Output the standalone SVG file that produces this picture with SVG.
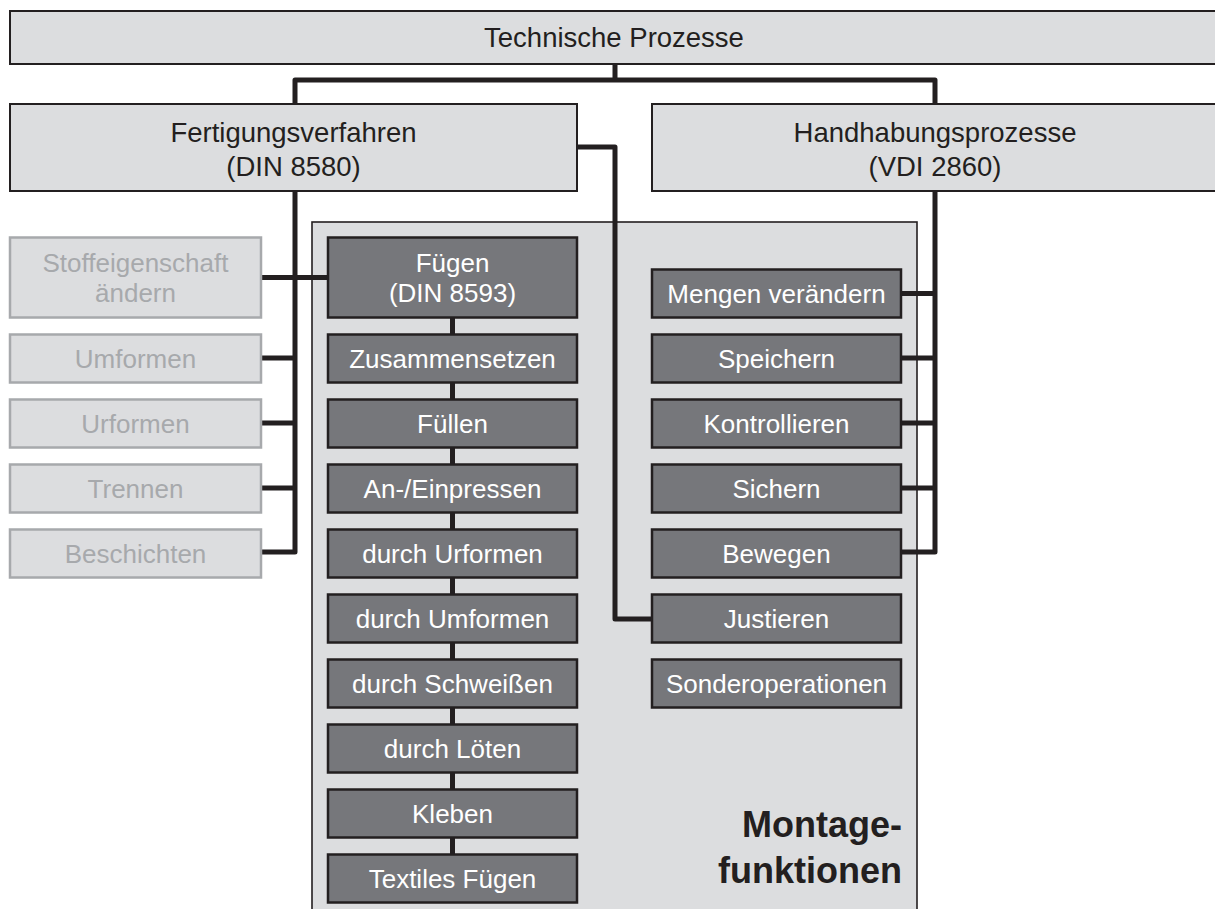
<svg xmlns="http://www.w3.org/2000/svg" width="1215" height="909" viewBox="0 0 1215 909">
  <style>
    text { font-family: "Liberation Sans", Arial, Helvetica, sans-serif; text-anchor: middle; }
    .head { fill: #dcdddf; stroke: #231f20; stroke-width: 2; }
    .head-t { fill: #231f20; font-size: 27.5px; }
    .pale { fill: #dcdddf; stroke: #a7a9ac; stroke-width: 2.5; }
    .pale-t { fill: #a7a9ac; font-size: 26px; }
    .dark { fill: #76777b; stroke: #231f20; stroke-width: 2.5; }
    .dark-t { fill: #ffffff; font-size: 26px; }
    .panel { fill: #dcdddf; stroke: #231f20; stroke-width: 1.6; }
    .title { fill: #231f20; font-size: 36px; font-weight: bold; text-anchor: end; }
    .wire { fill: none; stroke: #231f20; stroke-width: 5; stroke-linejoin: round; }
  </style>

  <!-- background panel for the assembly functions -->
  <rect class="panel" x="312" y="222" width="605" height="700"/>

  <!-- connectors -->
  <g id="connectors" class="wire">
    <path d="M615,64 V80 M295,104 V80 H935 V104"/>
    <path d="M295,191 V552 H261 M261,277.5 H328 M261,358 H295 M261,423 H295 M261,488 H295"/>
    <path d="M577,147 H615 V619 H652"/>
    <path d="M935,191 V552 H901 M901,293.5 H935 M901,358 H935 M901,423 H935 M901,488 H935"/>
    <path d="M452.5,317 V854"/>
  </g>

  <g id="technische-prozesse">
    <rect class="head" x="10" y="11" width="1212" height="53"/>
    <text class="head-t" x="614" y="47">Technische Prozesse</text>
  </g>
  <g id="fertigungsverfahren">
    <rect class="head" x="10" y="104" width="567" height="87"/>
    <text class="head-t" x="293.5" y="142">Fertigungsverfahren</text>
    <text class="head-t" x="293.5" y="176">(DIN 8580)</text>
  </g>
  <g id="handhabungsprozesse">
    <rect class="head" x="652" y="104" width="570" height="87"/>
    <text class="head-t" x="935" y="142">Handhabungsprozesse</text>
    <text class="head-t" x="935" y="176">(VDI 2860)</text>
  </g>

  <!-- other manufacturing groups -->
  <g id="stoffeigenschaft">
    <rect class="pale" x="10" y="237.5" width="251" height="80"/>
    <text class="pale-t" x="135.5" y="272">Stoffeigenschaft</text>
    <text class="pale-t" x="135.5" y="302">ändern</text>
  </g>
  <g id="umformen">
    <rect class="pale" x="10" y="334.5" width="251" height="48"/>
    <text class="pale-t" x="135.5" y="367.5">Umformen</text>
  </g>
  <g id="urformen">
    <rect class="pale" x="10" y="399.5" width="251" height="48"/>
    <text class="pale-t" x="135.5" y="432.5">Urformen</text>
  </g>
  <g id="trennen">
    <rect class="pale" x="10" y="464.5" width="251" height="48"/>
    <text class="pale-t" x="135.5" y="497.5">Trennen</text>
  </g>
  <g id="beschichten">
    <rect class="pale" x="10" y="529.5" width="251" height="48"/>
    <text class="pale-t" x="135.5" y="562.5">Beschichten</text>
  </g>

  <!-- joining (DIN 8593) -->
  <g id="fuegen">
    <rect class="dark" x="328" y="237.5" width="249" height="80"/>
    <text class="dark-t" x="452.5" y="272">Fügen</text>
    <text class="dark-t" x="452.5" y="302">(DIN 8593)</text>
  </g>
  <g id="zusammensetzen">
    <rect class="dark" x="328" y="334.5" width="249" height="48"/>
    <text class="dark-t" x="452.5" y="367.5">Zusammensetzen</text>
  </g>
  <g id="fuellen">
    <rect class="dark" x="328" y="399.5" width="249" height="48"/>
    <text class="dark-t" x="452.5" y="432.5">Füllen</text>
  </g>
  <g id="einpressen">
    <rect class="dark" x="328" y="464.5" width="249" height="48"/>
    <text class="dark-t" x="452.5" y="497.5">An-/Einpressen</text>
  </g>
  <g id="durch-urformen">
    <rect class="dark" x="328" y="529.5" width="249" height="48"/>
    <text class="dark-t" x="452.5" y="562.5">durch Urformen</text>
  </g>
  <g id="durch-umformen">
    <rect class="dark" x="328" y="594.5" width="249" height="48"/>
    <text class="dark-t" x="452.5" y="627.5">durch Umformen</text>
  </g>
  <g id="durch-schweissen">
    <rect class="dark" x="328" y="659.5" width="249" height="48"/>
    <text class="dark-t" x="452.5" y="692.5">durch Schweißen</text>
  </g>
  <g id="durch-loeten">
    <rect class="dark" x="328" y="724.5" width="249" height="48"/>
    <text class="dark-t" x="452.5" y="757.5">durch Löten</text>
  </g>
  <g id="kleben">
    <rect class="dark" x="328" y="789.5" width="249" height="48"/>
    <text class="dark-t" x="452.5" y="822.5">Kleben</text>
  </g>
  <g id="textiles-fuegen">
    <rect class="dark" x="328" y="854.5" width="249" height="48"/>
    <text class="dark-t" x="452.5" y="887.5">Textiles Fügen</text>
  </g>

  <!-- handling functions -->
  <g id="mengen-veraendern">
    <rect class="dark" x="652" y="269.5" width="249" height="48"/>
    <text class="dark-t" x="776.5" y="302.5">Mengen verändern</text>
  </g>
  <g id="speichern">
    <rect class="dark" x="652" y="334.5" width="249" height="48"/>
    <text class="dark-t" x="776.5" y="367.5">Speichern</text>
  </g>
  <g id="kontrollieren">
    <rect class="dark" x="652" y="399.5" width="249" height="48"/>
    <text class="dark-t" x="776.5" y="432.5">Kontrollieren</text>
  </g>
  <g id="sichern">
    <rect class="dark" x="652" y="464.5" width="249" height="48"/>
    <text class="dark-t" x="776.5" y="497.5">Sichern</text>
  </g>
  <g id="bewegen">
    <rect class="dark" x="652" y="529.5" width="249" height="48"/>
    <text class="dark-t" x="776.5" y="562.5">Bewegen</text>
  </g>
  <g id="justieren">
    <rect class="dark" x="652" y="594.5" width="249" height="48"/>
    <text class="dark-t" x="776.5" y="627.5">Justieren</text>
  </g>
  <g id="sonderoperationen">
    <rect class="dark" x="652" y="659.5" width="249" height="48"/>
    <text class="dark-t" x="776.5" y="692.5">Sonderoperationen</text>
  </g>

  <g id="montagefunktionen">
    <text class="title" x="902" y="837">Montage-</text>
    <text class="title" x="902" y="883">funktionen</text>
  </g>
</svg>
